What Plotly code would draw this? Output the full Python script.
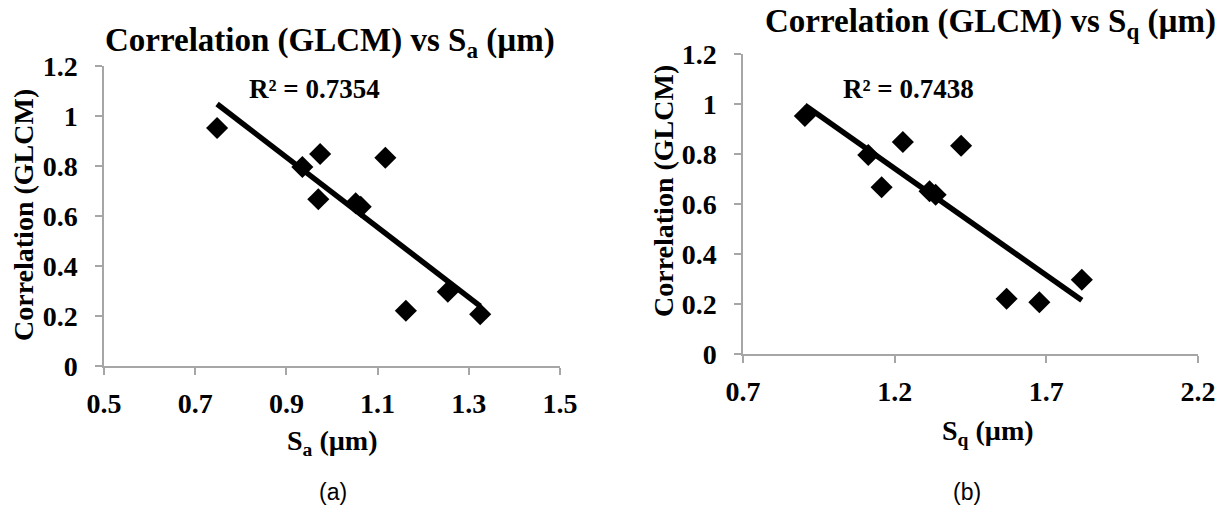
import numpy as np
import plotly.graph_objects as go

# ---------------- data ----------------
corr_glcm = [0.952, 0.796, 0.848, 0.667, 0.833, 0.651, 0.637, 0.221, 0.297, 0.207]
sa_um = [0.748, 0.935, 0.974, 0.970, 1.117, 1.052, 1.063, 1.162, 1.254, 1.325]
sq_um = [0.904, 1.113, 1.227, 1.157, 1.419, 1.315, 1.335, 1.569, 1.817, 1.677]

y_ticks = [0, 0.2, 0.4, 0.6, 0.8, 1.0, 1.2]
y_ticklabels = ["0", "0.2", "0.4", "0.6", "0.8", "1", "1.2"]
xa_ticks = [0.5, 0.7, 0.9, 1.1, 1.3, 1.5]
xa_ticklabels = ["0.5", "0.7", "0.9", "1.1", "1.3", "1.5"]
xq_ticks = [0.7, 1.2, 1.7, 2.2]
xq_ticklabels = ["0.7", "1.2", "1.7", "2.2"]

r2_a = "R² = 0.7354"
r2_q = "R² = 0.7438"

W, H = 1226, 516
SERIF = "Liberation Serif, serif"
AX_GRAY = "#a6a6a6"


def px(x):
    return x / W


def py(y):
    return 1 - y / H


def fit_line(x, y):
    x = np.asarray(x, float)
    y = np.asarray(y, float)
    m, b = np.polyfit(x, y, 1)
    xs = np.array([x.min(), x.max()])
    return xs, m * xs + b


def bold(labels):
    return ["<b>%s</b>" % s for s in labels]


fig = go.Figure()

# left panel
fig.add_trace(go.Scatter(x=sa_um, y=corr_glcm, mode="markers", xaxis="x", yaxis="y",
                         marker=dict(symbol="diamond", size=17, color="black"),
                         showlegend=False, hoverinfo="x+y"))
lx, ly = fit_line(sa_um, corr_glcm)
fig.add_trace(go.Scatter(x=lx, y=ly, mode="lines", xaxis="x", yaxis="y",
                         line=dict(color="black", width=5.5), showlegend=False))

# right panel
fig.add_trace(go.Scatter(x=sq_um, y=corr_glcm, mode="markers", xaxis="x2", yaxis="y2",
                         marker=dict(symbol="diamond", size=17, color="black"),
                         showlegend=False, hoverinfo="x+y"))
rx, ry = fit_line(sq_um, corr_glcm)
fig.add_trace(go.Scatter(x=rx, y=ry, mode="lines", xaxis="x2", yaxis="y2",
                         line=dict(color="black", width=5.5), showlegend=False))


def axis_style():
    return dict(showgrid=False, zeroline=False, showline=True, linecolor=AX_GRAY,
                linewidth=1.5, ticks="outside", ticklen=7, tickcolor=AX_GRAY,
                tickwidth=1.5, fixedrange=True, automargin=False,
                tickfont=dict(family=SERIF, size=28, color="black"))


fig.update_layout(
    width=W, height=H,
    margin=dict(l=0, r=0, t=0, b=0, autoexpand=False),
    paper_bgcolor="white", plot_bgcolor="white",
    font=dict(family=SERIF, color="black"),
    xaxis=dict(domain=[px(104), px(560)], range=[0.5, 1.5], anchor="y",
               tickvals=xa_ticks, ticktext=bold(xa_ticklabels), ticklabelstandoff=5,
               **axis_style()),
    yaxis=dict(domain=[py(366), py(66)], range=[0, 1.2], anchor="x",
               tickvals=y_ticks, ticktext=bold(y_ticklabels), ticklabelstandoff=12,
               **axis_style()),
    xaxis2=dict(domain=[px(743), px(1198)], range=[0.7, 2.2], anchor="y2",
                tickvals=xq_ticks, ticktext=bold(xq_ticklabels), ticklabelstandoff=5,
                **axis_style()),
    yaxis2=dict(domain=[py(354), py(54)], range=[0, 1.2], anchor="x2",
                tickvals=y_ticks, ticktext=bold(y_ticklabels), ticklabelstandoff=12,
                **axis_style()),
)


def ann(text, x, y, size, bold=True, angle=0, family=SERIF):
    fig.add_annotation(text=text, x=px(x), y=py(y), xref="paper", yref="paper",
                       showarrow=False, textangle=angle, xanchor="center", yanchor="middle",
                       font=dict(family=family, size=size, color="black",
                                 weight="bold" if bold else "normal"))


# titles
ann("Correlation (GLCM) vs S<sub>a</sub> (µm)", 330, 42, 33)
ann("Correlation (GLCM) vs S<sub>q</sub> (µm)", 990, 24, 33)
# axis titles
ann("S<sub>a</sub> (µm)", 332, 442, 28)
ann("S<sub>q</sub> (µm)", 988, 432, 28)
ann("Correlation (GLCM)", 23, 215, 28, angle=-90)
ann("Correlation (GLCM)", 663, 191, 28, angle=-90)
# R² labels
ann(r2_a, 314, 89, 27)
ann(r2_q, 908, 89, 27)
# captions
ann("(a)", 333, 492, 23, bold=False, family="Liberation Sans Narrow, Liberation Sans, sans-serif")
ann("(b)", 967, 492, 23, bold=False, family="Liberation Sans Narrow, Liberation Sans, sans-serif")

fig.write_html("out.html")
